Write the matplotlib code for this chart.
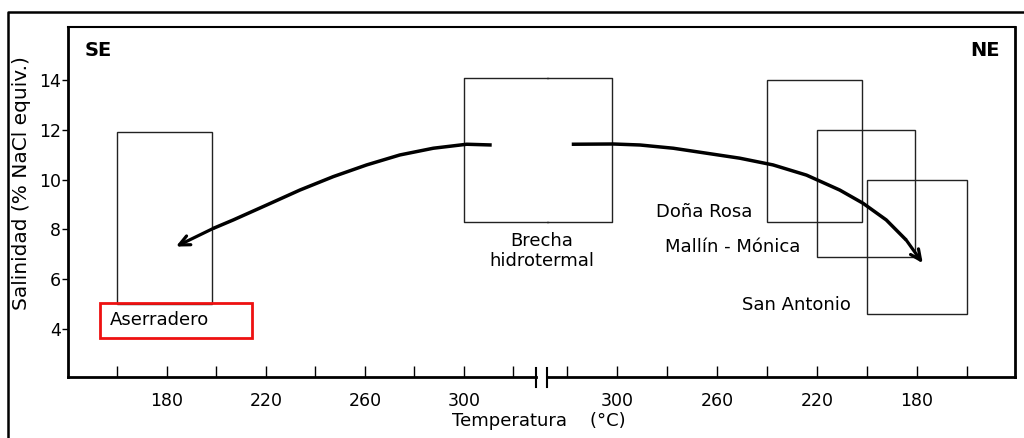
import matplotlib.pyplot as plt
from matplotlib.lines import Line2D
from matplotlib.patches import Rectangle

# datos: temperatura (C) y salinidad (% NaCl equiv.)
# cajas: (Tmin, Tmax, Smin, Smax)
aserradero = (160, 198, 5.0, 11.9)
brecha = (300, 302, 8.3, 14.1)          # cruza el corte del eje
dona_rosa = (202, 240, 8.3, 14.0)
mallin_monica = (181, 220, 6.9, 12.0)
san_antonio = (160, 200, 4.6, 10.0)

# curva hacia el SE (eje izquierdo)
curva_se_t = [311.2, 301.1, 287.6, 274.1, 260.7, 247.2, 233.7, 220.3, 206.8, 198.7, 183.6]
curva_se_s = [11.39, 11.42, 11.26, 10.99, 10.59, 10.12, 9.58, 8.98, 8.38, 8.04, 7.31]
# curva hacia el NE (eje derecho)
curva_ne_t = [318.1, 301.5, 290.8, 277.5, 264.2, 250.9, 237.6, 224.2, 210.9, 201.6, 192.3, 184.3, 177.7]
curva_ne_s = [11.42, 11.43, 11.39, 11.26, 11.06, 10.86, 10.59, 10.18, 9.58, 9.05, 8.38, 7.57, 6.64]

x_ticks = [160, 180, 200, 220, 240, 260, 280, 300, 320]
x_labels = ['', '180', '', '220', '', '260', '', '300', '']
y_ticks = [4, 6, 8, 10, 12, 14]

W, H = 1024, 438
fig = plt.figure(figsize=(W / 100, H / 100), dpi=100)
plt.rcParams['font.family'] = 'DejaVu Sans'


def fx(px):
    return px / W


def fy(py):
    return 1 - py / H


bottom, top = fy(377), fy(27)
ax1 = fig.add_axes([fx(68), bottom, fx(536 - 68), top - bottom])
ax2 = fig.add_axes([fx(547), bottom, fx(1015 - 547), top - bottom])

ax1.set_xlim(140, 329.1)
ax2.set_xlim(328, 140.8)
for ax in (ax1, ax2):
    ax.patch.set_visible(False)
    ax.set_ylim(2.07, 16.13)
    ax.spines['top'].set_visible(False)
    ax.spines['bottom'].set_linewidth(2)
    ax.set_xticks(x_ticks)
    ax.set_xticklabels(x_labels)
    ax.tick_params(axis='x', direction='in', length=8, width=1, pad=11, labelsize=12.5)
    # marcas del corte
    xb = 1 if ax is ax1 else 0
    ax.plot([xb, xb], [-0.028, 0.025], transform=ax.transAxes, color='k', lw=1.5, clip_on=False)

ax1.spines['right'].set_visible(False)
ax1.spines['left'].set_linewidth(2)
ax1.set_yticks(y_ticks)
ax1.tick_params(axis='y', direction='out', length=4, width=1, pad=1, labelsize=12.5)
ax2.spines['left'].set_visible(False)
ax2.spines['right'].set_linewidth(2)
ax2.set_yticks([])

# linea superior continua y marco exterior
fig.add_artist(Line2D([fx(68), fx(1015)], [fy(27), fy(27)], color='k', lw=1.5))
fig.add_artist(Line2D([fx(8), fx(8), 1.0], [0.0, fy(12), fy(12)], color='k', lw=1.8))

box_kw = dict(fill=False, ec='#222222', lw=1.0)
t0, t1, s0, s1 = aserradero
ax1.add_patch(Rectangle((t0, s0), t1 - t0, s1 - s0, **box_kw))

t0, t1, s0, s1 = brecha
ax1.plot([334, t0, t0, 334], [s1, s1, s0, s0], color='#222222', lw=1.0, clip_on=False)
ax2.plot([328, t1, t1, 328], [s1, s1, s0, s0], color='#222222', lw=1.0)

for t0, t1, s0, s1 in (dona_rosa, mallin_monica, san_antonio):
    ax2.add_patch(Rectangle((t0, s0), t1 - t0, s1 - s0, **box_kw))

# curvas con flecha
arrow_kw = dict(arrowstyle='->,head_length=0.75,head_width=0.35', color='k', lw=2.3,
                shrinkA=0, shrinkB=0)
ax1.plot(curva_se_t[:-1], curva_se_s[:-1], color='k', lw=2.5, solid_capstyle='butt',
         solid_joinstyle='round')
ax1.annotate('', xy=(curva_se_t[-1], curva_se_s[-1]), xytext=(curva_se_t[-2], curva_se_s[-2]),
             arrowprops=arrow_kw)
ax2.plot(curva_ne_t[:-1], curva_ne_s[:-1], color='k', lw=2.5, solid_capstyle='butt',
         solid_joinstyle='round')
ax2.annotate('', xy=(curva_ne_t[-1], curva_ne_s[-1]), xytext=(curva_ne_t[-2], curva_ne_s[-2]),
             arrowprops=arrow_kw)

# textos
ax1.text(146.7, 15.2, 'SE', fontsize=14, fontweight='bold', va='center', ha='left')
ax2.text(146.8, 15.2, 'NE', fontsize=14, fontweight='bold', va='center', ha='right')
ax1.text(331.5, 7.13, 'Brecha\nhidrotermal', fontsize=13, ha='center', va='center',
         linespacing=1.15, clip_on=False)
ax2.text(246, 8.70, 'Doña Rosa', fontsize=13, ha='right', va='center')
ax2.text(226.8, 7.29, 'Mallín - Mónica', fontsize=13, ha='right', va='center')
ax2.text(206.4, 4.96, 'San Antonio', fontsize=13, ha='right', va='center')
ax1.add_patch(Rectangle((152.9, 3.64), 214.3 - 152.9, 5.04 - 3.64, fill=False,
                        ec='#ee1111', lw=2, clip_on=False, zorder=3))
ax1.text(157, 4.34, 'Aserradero', fontsize=13, ha='left', va='center')

fig.text(fx(539), fy(421), 'Temperatura    (°C)', fontsize=13, ha='center', va='center')
fig.text(fx(22), fy(183), 'Salinidad (% NaCl equiv.)', fontsize=14.5, rotation=90,
         ha='center', va='center')

fig.savefig('out.png', dpi=100)
